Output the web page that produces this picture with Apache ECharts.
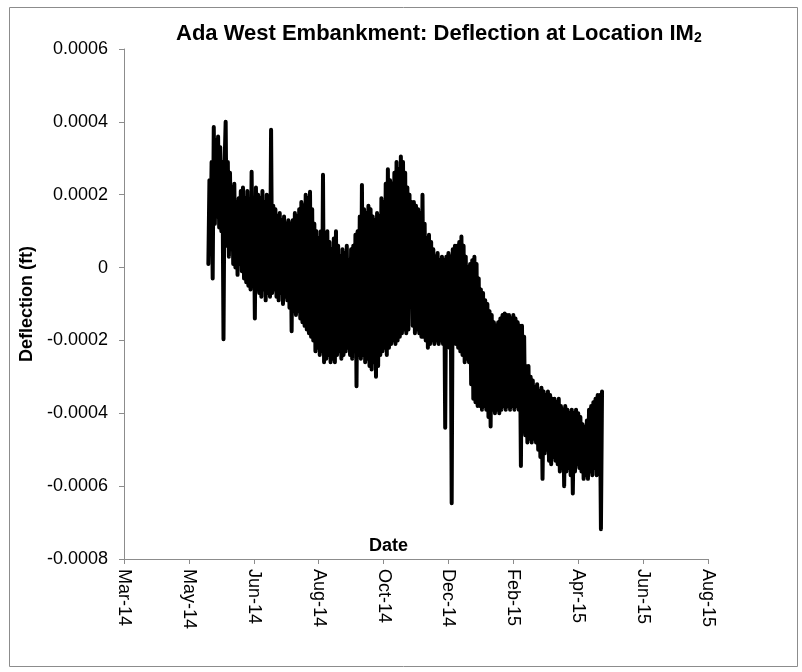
<!DOCTYPE html>
<html>
<head>
<meta charset="utf-8">
<script src="https://cdn.jsdelivr.net/npm/echarts@6/dist/echarts.min.js"></script>
<style>
html,body{margin:0;padding:0;background:#fff;}
#chart{width:802px;height:672px;}
</style>
</head>
<body>
<div id="chart"></div>
<script>
// Daily reading dates (ISO)
const dates = [
'2014-05-19','2014-05-20','2014-05-21','2014-05-22','2014-05-23','2014-05-24','2014-05-25','2014-05-26','2014-05-27','2014-05-28','2014-05-29','2014-05-30','2014-05-31',
'2014-06-01','2014-06-02','2014-06-03','2014-06-04','2014-06-05','2014-06-06','2014-06-07','2014-06-08','2014-06-09','2014-06-10','2014-06-11','2014-06-12','2014-06-13','2014-06-14','2014-06-15','2014-06-16','2014-06-17','2014-06-18','2014-06-19','2014-06-20','2014-06-21','2014-06-22','2014-06-23','2014-06-24','2014-06-25','2014-06-26','2014-06-27','2014-06-28','2014-06-29','2014-06-30',
'2014-07-01','2014-07-02','2014-07-03','2014-07-04','2014-07-05','2014-07-06','2014-07-07','2014-07-08','2014-07-09','2014-07-10','2014-07-11','2014-07-12','2014-07-13','2014-07-14','2014-07-15','2014-07-16','2014-07-17','2014-07-18','2014-07-19','2014-07-20','2014-07-21','2014-07-22','2014-07-23','2014-07-24','2014-07-25','2014-07-26','2014-07-27','2014-07-28','2014-07-29','2014-07-30','2014-07-31',
'2014-08-01','2014-08-02','2014-08-03','2014-08-04','2014-08-05','2014-08-06','2014-08-07','2014-08-08','2014-08-09','2014-08-10','2014-08-11','2014-08-12','2014-08-13','2014-08-14','2014-08-15','2014-08-16','2014-08-17','2014-08-18','2014-08-19','2014-08-20','2014-08-21','2014-08-22','2014-08-23','2014-08-24','2014-08-25','2014-08-26','2014-08-27','2014-08-28','2014-08-29','2014-08-30','2014-08-31',
'2014-09-01','2014-09-02','2014-09-03','2014-09-04','2014-09-05','2014-09-06','2014-09-07','2014-09-08','2014-09-09','2014-09-10','2014-09-11','2014-09-12','2014-09-13','2014-09-14','2014-09-15','2014-09-16','2014-09-17','2014-09-18','2014-09-19','2014-09-20','2014-09-21','2014-09-22','2014-09-23','2014-09-24','2014-09-25','2014-09-26','2014-09-27','2014-09-28','2014-09-29','2014-09-30',
'2014-10-01','2014-10-02','2014-10-03','2014-10-04','2014-10-05','2014-10-06','2014-10-07','2014-10-08','2014-10-09','2014-10-10','2014-10-11','2014-10-12','2014-10-13','2014-10-14','2014-10-15','2014-10-16','2014-10-17','2014-10-18','2014-10-19','2014-10-20','2014-10-21','2014-10-22','2014-10-23','2014-10-24','2014-10-25','2014-10-26','2014-10-27','2014-10-28','2014-10-29','2014-10-30','2014-10-31',
'2014-11-01','2014-11-02','2014-11-03','2014-11-04','2014-11-05','2014-11-06','2014-11-07','2014-11-08','2014-11-09','2014-11-10','2014-11-11','2014-11-12','2014-11-13','2014-11-14','2014-11-15','2014-11-16','2014-11-17','2014-11-18','2014-11-19','2014-11-20','2014-11-21','2014-11-22','2014-11-23','2014-11-24','2014-11-25','2014-11-26','2014-11-27','2014-11-28','2014-11-29','2014-11-30',
'2014-12-01','2014-12-02','2014-12-03','2014-12-04','2014-12-05','2014-12-06','2014-12-07','2014-12-08','2014-12-09','2014-12-10','2014-12-11','2014-12-12','2014-12-13','2014-12-14','2014-12-15','2014-12-16','2014-12-17','2014-12-18','2014-12-19','2014-12-20','2014-12-21','2014-12-22','2014-12-23','2014-12-24','2014-12-25','2014-12-26','2014-12-27','2014-12-28','2014-12-29','2014-12-30','2014-12-31',
'2015-01-01','2015-01-02','2015-01-03','2015-01-04','2015-01-05','2015-01-06','2015-01-07','2015-01-08','2015-01-09','2015-01-10','2015-01-11','2015-01-12','2015-01-13','2015-01-14','2015-01-15','2015-01-16','2015-01-17','2015-01-18','2015-01-19','2015-01-20','2015-01-21','2015-01-22','2015-01-23','2015-01-24','2015-01-25','2015-01-26','2015-01-27','2015-01-28','2015-01-29','2015-01-30','2015-01-31',
'2015-02-01','2015-02-02','2015-02-03','2015-02-04','2015-02-05','2015-02-06','2015-02-07','2015-02-08','2015-02-09','2015-02-10','2015-02-11','2015-02-12','2015-02-13','2015-02-14','2015-02-15','2015-02-16','2015-02-17','2015-02-18','2015-02-19','2015-02-20','2015-02-21','2015-02-22','2015-02-23','2015-02-24','2015-02-25','2015-02-26','2015-02-27','2015-02-28',
'2015-03-01','2015-03-02','2015-03-03','2015-03-04','2015-03-05','2015-03-06','2015-03-07','2015-03-08','2015-03-09','2015-03-10','2015-03-11','2015-03-12','2015-03-13','2015-03-14','2015-03-15','2015-03-16','2015-03-17','2015-03-18','2015-03-19','2015-03-20','2015-03-21','2015-03-22','2015-03-23','2015-03-24','2015-03-25','2015-03-26','2015-03-27','2015-03-28','2015-03-29','2015-03-30','2015-03-31',
'2015-04-01','2015-04-02','2015-04-03','2015-04-04','2015-04-05','2015-04-06','2015-04-07','2015-04-08','2015-04-09','2015-04-10','2015-04-11','2015-04-12','2015-04-13','2015-04-14','2015-04-15','2015-04-16','2015-04-17','2015-04-18','2015-04-19','2015-04-20','2015-04-21','2015-04-22','2015-04-23','2015-04-24','2015-04-25','2015-04-26','2015-04-27','2015-04-28','2015-04-29','2015-04-30',
'2015-05-01','2015-05-02','2015-05-03','2015-05-04','2015-05-05','2015-05-06','2015-05-07','2015-05-08','2015-05-09','2015-05-10','2015-05-11','2015-05-12','2015-05-13','2015-05-14','2015-05-15','2015-05-16','2015-05-17','2015-05-18'
];
// Deflection (ft), one reading per date
const deflection = [
0.1e-4,2.4e-4,0.6e-4,2.9e-4,-0.3e-4,3.86e-4,1.2e-4,3.5e-4,1.4e-4,3.6e-4,1.1e-4,3.3e-4,1.0e-4,2.9e-4,-1.97e-4,2.8e-4,
4.0e-4,0.6e-4,2.9e-4,0.3e-4,2.6e-4,0.5e-4,2.2e-4,0.1e-4,2.3e-4,0.0e-4,1.8e-4,-0.2e-4,1.9e-4,0.1e-4,2.1e-4,-0.1e-4,2.2e-4,-0.3e-4,1.9e-4,-0.4e-4,2.1e-4,-0.5e-4,1.8e-4,-0.6e-4,2.63e-4,-0.4e-4,1.7e-4,-1.4e-4,2.2e-4,-0.6e-4,
2.0e-4,-0.7e-4,1.9e-4,-0.8e-4,2.1e-4,-0.6e-4,1.8e-4,-0.9e-4,2.0e-4,-0.7e-4,1.6e-4,-0.8e-4,3.78e-4,-0.7e-4,1.7e-4,-0.6e-4,1.6e-4,-0.8e-4,1.4e-4,-0.9e-4,1.5e-4,-0.7e-4,1.3e-4,-1.0e-4,1.4e-4,-0.8e-4,1.2e-4,-0.9e-4,1.3e-4,-1.1e-4,1.2e-4,
-1.75e-4,1.3e-4,-1.2e-4,1.5e-4,-1.3e-4,1.4e-4,-1.2e-4,1.6e-4,-1.4e-4,1.8e-4,-1.5e-4,1.7e-4,-1.6e-4,2.0e-4,-1.7e-4,1.9e-4,-1.8e-4,2.08e-4,-1.9e-4,1.6e-4,-2.0e-4,1.2e-4,-2.3e-4,1.0e-4,-2.2e-4,0.8e-4,-2.4e-4,1.0e-4,-2.3e-4,2.55e-4,-2.6e-4,
0.9e-4,-2.5e-4,1.0e-4,-2.4e-4,0.7e-4,-2.6e-4,0.5e-4,-2.5e-4,0.8e-4,-2.6e-4,1.0e-4,-2.4e-4,0.6e-4,-2.3e-4,0.3e-4,-2.5e-4,0.5e-4,-2.4e-4,0.4e-4,-2.3e-4,0.6e-4,-2.2e-4,0.2e-4,-2.4e-4,0.5e-4,-2.5e-4,0.6e-4,-2.3e-4,0.9e-4,-3.26e-4,
1.0e-4,-2.4e-4,1.4e-4,-2.5e-4,2.27e-4,-2.4e-4,1.6e-4,-2.6e-4,1.5e-4,-2.5e-4,1.7e-4,-2.7e-4,1.6e-4,-2.8e-4,1.4e-4,-2.6e-4,1.3e-4,-3.0e-4,1.5e-4,-2.7e-4,1.4e-4,-2.4e-4,1.9e-4,-2.3e-4,1.8e-4,-2.2e-4,2.3e-4,-2.4e-4,2.7e-4,-2.2e-4,2.4e-4,
-2.1e-4,2.3e-4,-2.0e-4,2.6e-4,-2.1e-4,2.9e-4,-2.0e-4,2.7e-4,-1.9e-4,3.05e-4,-1.8e-4,2.9e-4,-1.7e-4,2.6e-4,-1.8e-4,2.2e-4,-1.7e-4,2.0e-4,-1.0e-4,1.8e-4,-1.6e-4,1.8e-4,-1.8e-4,1.7e-4,-1.7e-4,1.6e-4,-1.8e-4,1.5e-4,-1.9e-4,2.0e-4,
-1.9e-4,1.2e-4,-2.0e-4,0.8e-4,-2.2e-4,0.9e-4,-2.1e-4,0.7e-4,-2.0e-4,0.5e-4,-2.1e-4,0.3e-4,-2.0e-4,0.4e-4,-2.1e-4,0.2e-4,-2.0e-4,0.3e-4,-2.1e-4,0.2e-4,-4.4e-4,0.3e-4,-2.0e-4,0.4e-4,-2.2e-4,0.3e-4,-6.47e-4,0.5e-4,-2.0e-4,0.6e-4,-2.1e-4,
0.6e-4,-2.2e-4,0.7e-4,-2.3e-4,0.85e-4,-2.4e-4,0.6e-4,-2.6e-4,0.3e-4,-2.5e-4,0.0e-4,-2.6e-4,0.1e-4,-3.2e-4,0.2e-4,-3.6e-4,0.3e-4,-3.7e-4,0.1e-4,-3.8e-4,-0.3e-4,-3.8e-4,-0.6e-4,-3.9e-4,-0.7e-4,-3.8e-4,-0.9e-4,-3.9e-4,-1.0e-4,-4.1e-4,-1.2e-4,
-4.36e-4,-1.3e-4,-3.9e-4,-1.5e-4,-4.0e-4,-1.6e-4,-3.9e-4,-1.5e-4,-4.0e-4,-1.4e-4,-3.9e-4,-1.3e-4,-3.8e-4,-1.26e-4,-3.9e-4,-1.3e-4,-3.8e-4,-1.3e-4,-3.9e-4,-1.4e-4,-3.8e-4,-1.3e-4,-3.9e-4,-1.4e-4,-3.8e-4,-1.5e-4,-3.9e-4,-1.6e-4,
-5.45e-4,-1.6e-4,-4.5e-4,-1.9e-4,-4.6e-4,-2.7e-4,-4.8e-4,-2.7e-4,-4.7e-4,-3.0e-4,-4.8e-4,-3.1e-4,-4.7e-4,-3.3e-4,-4.8e-4,-3.2e-4,-5.0e-4,-3.4e-4,-5.2e-4,-3.3e-4,-5.8e-4,-3.4e-4,-5.1e-4,-3.5e-4,-5.0e-4,-3.4e-4,-5.3e-4,-3.5e-4,-5.4e-4,-3.6e-4,-5.2e-4,
-3.6e-4,-5.3e-4,-3.7e-4,-5.4e-4,-3.6e-4,-5.6e-4,-3.8e-4,-5.5e-4,-3.9e-4,-6.0e-4,-3.8e-4,-5.6e-4,-3.9e-4,-5.5e-4,-4.0e-4,-5.7e-4,-3.9e-4,-6.2e-4,-4.0e-4,-5.6e-4,-3.9e-4,-5.4e-4,-4.0e-4,-5.5e-4,-4.1e-4,-5.6e-4,-4.3e-4,-5.8e-4,-4.4e-4,-5.7e-4,
-4.2e-4,-5.8e-4,-3.9e-4,-5.6e-4,-3.8e-4,-5.7e-4,-3.7e-4,-5.5e-4,-3.6e-4,-5.7e-4,-3.5e-4,-5.6e-4,-3.5e-4,-7.18e-4,-3.4e-4
];
const xTickLabels = ['Mar-14','May-14','Jun-14','Aug-14','Oct-14','Dec-14','Feb-15','Apr-15','Jun-15','Aug-15'];
const yTickLabels = ['-0.0008','-0.0006','-0.0004','-0.0002','0','0.0002','0.0004','0.0006'];

// Excel-style serial day numbers on the x axis
const XMIN = 41700, XMAX = 42240, XSTEP = 60;
const YMIN = -0.0008, YMAX = 0.0006, YSTEP = 0.0002;
function toSerial(iso){ return Date.parse(iso + 'T00:00:00Z') / 86400000 + 25569; }
const seriesData = dates.map((d, i) => [toSerial(d), deflection[i]]);

const FONT = '"Liberation Sans", Arial, sans-serif';
const chart = echarts.init(document.getElementById('chart'), null, {renderer: 'canvas'});
chart.setOption({
  animation: false,
  backgroundColor: '#ffffff',
  title: {
    text: '{a|Ada West Embankment: Deflection at Location IM}{s|2}',
    left: 176, top: 21, padding: 0,
    textStyle: {
      rich: {
        a: {fontFamily: FONT, fontSize: 22, fontWeight: 'bold', color: '#000', lineHeight: 26},
        s: {fontFamily: FONT, fontSize: 14, fontWeight: 'bold', color: '#000', lineHeight: 26, padding: [8, 0, 0, 0]}
      }
    }
  },
  grid: {left: 124, right: 94, top: 49, bottom: 113, containLabel: false},
  xAxis: {
    type: 'value', min: XMIN, max: XMAX, interval: XSTEP,
    axisLine: {show: true, onZero: false, lineStyle: {color: '#8c8c8c', width: 1}},
    axisTick: {show: true, length: 5, lineStyle: {color: '#8c8c8c'}},
    splitLine: {show: false},
    axisLabel: {
      rotate: -90, margin: 10, fontFamily: FONT, fontSize: 18, color: '#000',
      formatter: v => xTickLabels[Math.round((v - XMIN) / XSTEP)] || ''
    }
  },
  yAxis: {
    type: 'value', min: YMIN, max: YMAX, interval: YSTEP,
    name: 'Deflection (ft)', nameLocation: 'middle', nameGap: 86,
    nameTextStyle: {fontFamily: FONT, fontSize: 18, fontWeight: 'bold', color: '#000'},
    axisLine: {show: true, lineStyle: {color: '#8c8c8c', width: 1}},
    axisTick: {show: true, length: 5, lineStyle: {color: '#8c8c8c'}},
    splitLine: {show: false},
    axisLabel: {
      margin: 16, fontFamily: FONT, fontSize: 18, color: '#000',
      formatter: v => yTickLabels[Math.round((v - YMIN) / YSTEP)] || ''
    }
  },
  graphic: [
    {type: 'rect', left: 7, top: 5, shape: {width: 788, height: 659},
     style: {fill: 'none', stroke: '#8c8c8c', lineWidth: 1}, silent: true, z: -1},
    {type: 'text', left: 369, top: 537,
     style: {text: 'Date', font: 'bold 18px ' + FONT, fill: '#000'}}
  ],
  series: [{
    type: 'line', data: seriesData, showSymbol: false, symbol: 'none',
    lineStyle: {color: '#000', width: 4, join: 'round', cap: 'round'}, clip: false
  }]
});
</script>
</body>
</html>
